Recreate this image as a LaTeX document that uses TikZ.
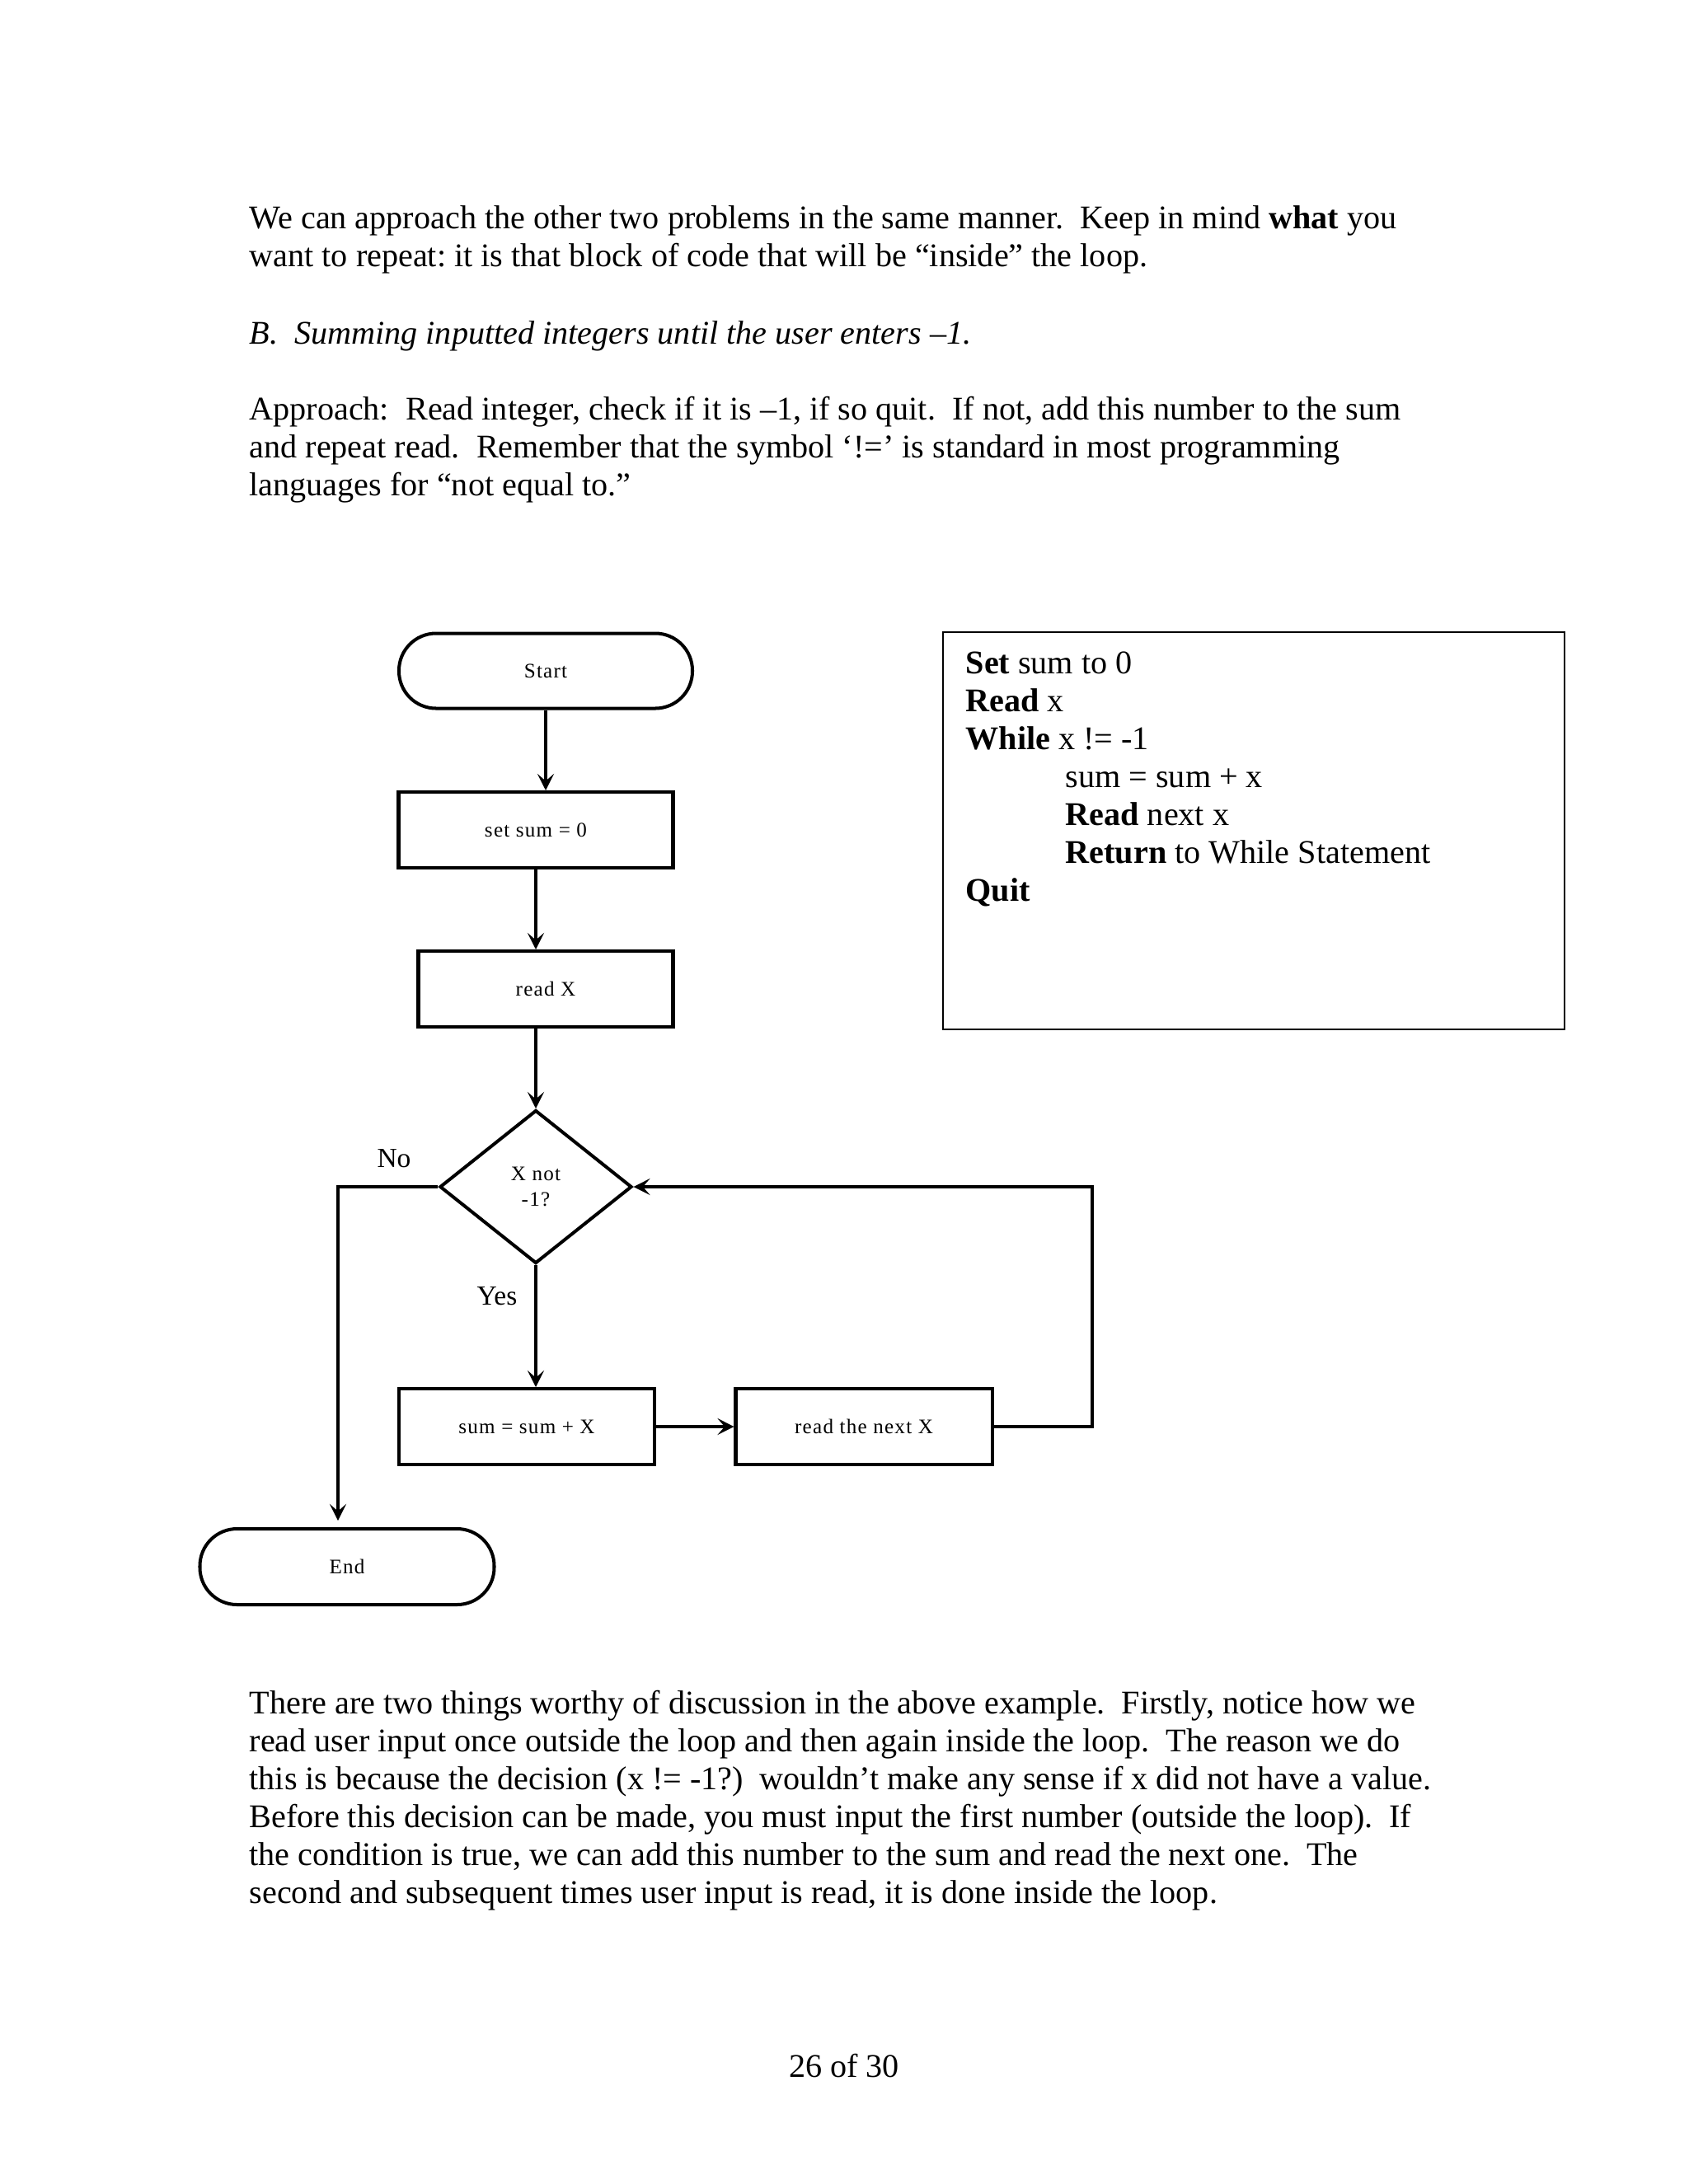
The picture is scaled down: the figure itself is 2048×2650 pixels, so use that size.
\documentclass[tikz,border=0pt]{standalone}
\usepackage{fontspec}
\setmainfont{Liberation Serif}
\newfontfamily\fcfont[LetterSpace=5]{Liberation Serif}
\usetikzlibrary{arrows.meta,shapes.geometric}
\newdimen\pu \pu=0.29886pt
\begin{document}
\begin{tikzpicture}[x=0.29886pt, y=-0.29886pt,
  every node/.style={font=\fontsize{12}{13.8}\selectfont},
  txt/.style={anchor=base west, inner sep=0pt},
  fc/.style={draw, line width=1.2pt, inner sep=0pt, font=\fcfont\fontsize{7.5}{9.5}\selectfont},
  proc/.style={fc, rectangle},
  term/.style={fc, rectangle, rounded corners=45*\pu, minimum height=91*\pu},
  dec/.style={fc, diamond, align=center},
  lbl/.style={inner sep=0pt, font=\fontsize{10}{12}\selectfont},
  arr/.style={line width=1.2pt, -{Stealth[length=6pt,width=6pt,inset=2.6pt]}},
  codebox/.style={draw, line width=0.8pt, inner sep=0pt}
]
\useasboundingbox[fill=white] (0,0) rectangle (2048,2650);
\frenchspacing
% top text
\node[txt] (t1) at (302,277) {We can approach the other two problems in the same manner.\ \ Keep in mind \textbf{what} you};
\node[txt] (t2) at (302,323) {want to repeat: it is that block of code that will be “inside” the loop.};
\node[txt] (t3) at (302,417) {\itshape B.\ \ Summing inputted integers until the user enters –1.};
\node[txt] (t4) at (302,509) {Approach:\ \ Read integer, check if it is –1, if so quit.\ \ If not, add this number to the sum};
\node[txt] (t5) at (302,555) {and repeat read.\ \ Remember that the symbol ‘!=’ is standard in most programming};
\node[txt] (t6) at (302,601) {languages for “not equal to.”};

% flowchart
\node[term, minimum width=356*\pu] (start) at (662,814) {Start};
\node[proc, minimum width=333*\pu, minimum height=92*\pu] (setsum) at (650,1007) {set sum = 0};
\node[proc, minimum width=309*\pu, minimum height=92*\pu] (readx) at (662,1200) {read X};
\node[dec, minimum width=233*\pu, minimum height=186*\pu] (dec) at (650,1440) {X not\\-1?};
\node[proc, minimum width=310*\pu, minimum height=92*\pu] (sumb) at (639,1731) {sum = sum + X};
\node[proc, minimum width=311*\pu, minimum height=92*\pu] (readn) at (1048,1731) {read the next X};
\node[term, minimum width=357*\pu, minimum height=92*\pu] (endn) at (421,1901) {End};
\node[lbl] (no) at (478,1406) {No};
\node[lbl] (yes) at (603,1573) {Yes};
\coordinate (lp) at (1325,1440);
\coordinate (nc) at (410,1440);

\draw[arr] (start.south) -- (start.south |- setsum.north);
\draw[arr] (setsum.south) -- (setsum.south |- readx.north);
\draw[arr] (dec.north |- readx.south) -- (dec.north);
\draw[arr] (dec.south) -- (dec.south |- sumb.north);
\draw[arr] (sumb.east) -- (readn.west);
\draw[arr] (readn.east) -| (lp) -- (dec.east);
\draw[arr, shorten >=8*\pu] (dec.west) -- (nc) -- (nc |- endn.north);

% code box
\node[codebox, minimum width=754*\pu, minimum height=482*\pu] (code) at (1521,1008) {};
\node[txt] (c1) at (1171,817) {\textbf{Set} sum to 0};
\node[txt] (c2) at (1171,863) {\textbf{Read} x};
\node[txt] (c3) at (1171,909) {\textbf{While} x != -1};
\node[txt] (c4) at (1292,955) {sum = sum + x};
\node[txt] (c5) at (1292,1001) {\textbf{Read} next x};
\node[txt] (c6) at (1292,1047) {\textbf{Return} to While Statement};
\node[txt] (c7) at (1171,1093) {\textbf{Quit}};

% bottom text
\node[txt] (b1) at (302,2079) {There are two things worthy of discussion in the above example.\ \ Firstly, notice how we};
\node[txt] (b2) at (302,2125) {read user input once outside the loop and then again inside the loop.\ \ The reason we do};
\node[txt] (b3) at (302,2171) {this is because the decision (x != -1?)\ \ wouldn’t make any sense if x did not have a value.};
\node[txt] (b4) at (302,2217) {Before this decision can be made, you must input the first number (outside the loop).\ \ If};
\node[txt] (b5) at (302,2263) {the condition is true, we can add this number to the sum and read the next one.\ \ The};
\node[txt] (b6) at (302,2309) {second and subsequent times user input is read, it is done inside the loop.};

\node[anchor=base, inner sep=0pt] (pg) at (1024,2520) {26 of 30};
\end{tikzpicture}
\end{document}
